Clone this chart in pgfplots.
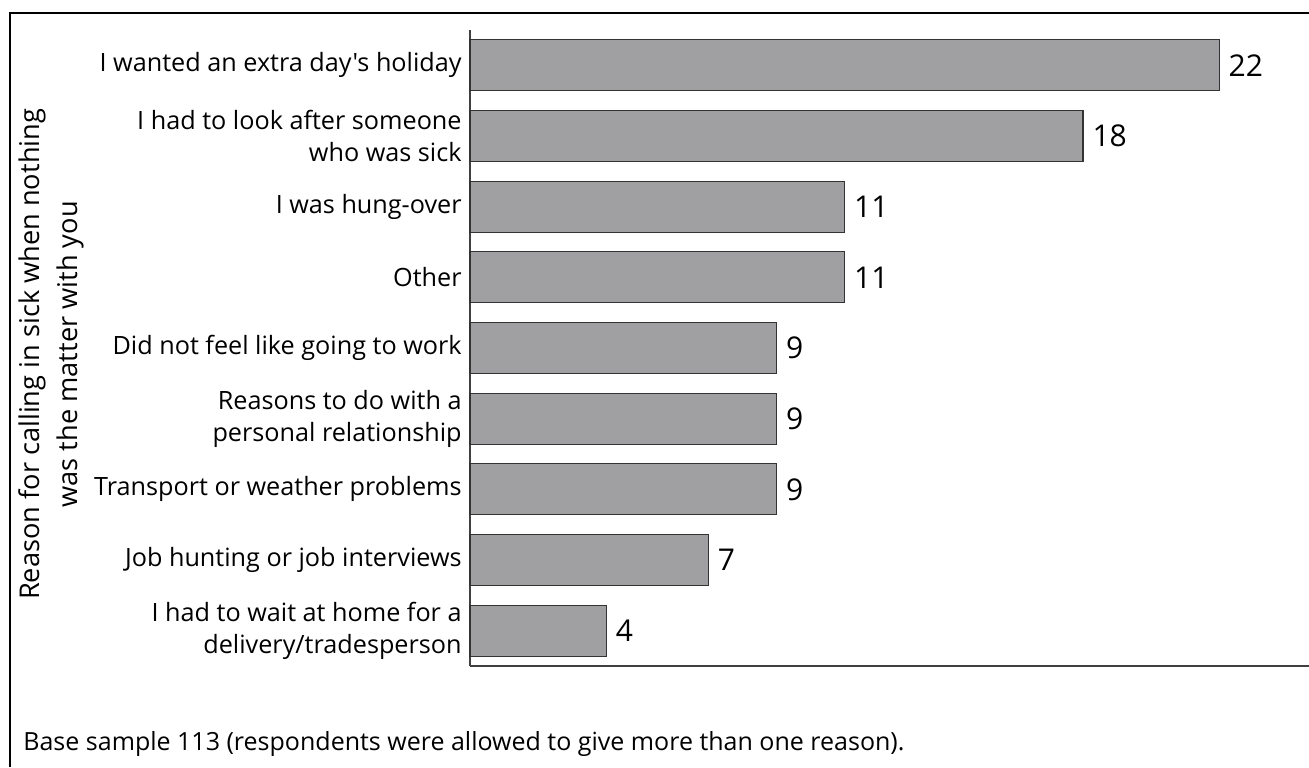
\documentclass[border=0pt]{standalone}
\usepackage{fontspec}
\setmainfont{Open Sans}[Ligatures=TeXOff]
\usepackage{pgfplots}
\pgfplotsset{compat=1.18}
\definecolor{barfill}{HTML}{A0A0A2}
\definecolor{baredge}{HTML}{333333}
\definecolor{axisgray}{HTML}{404040}
\begin{document}
\begin{tikzpicture}[x=1pt,y=1pt]
\fontsize{12.5}{16}\selectfont
\begin{axis}[
  at={(235pt,-333pt)}, anchor=south west,
  scale only axis,
  width=419.5pt, height=318pt,
  xbar, bar width=25.5pt,
  xmin=0, xmax=24.64,
  ymin=-0.5, ymax=8.5, y dir=reverse,
  axis x line*=bottom, axis y line*=left,
  axis line style={draw=axisgray, line width=1pt, -},
  xtick=\empty,
  ytick={0,...,8},
  yticklabels={
    {I wanted an extra day's holiday},
    {I had to look after someone\\who was sick},
    {I was hung-over},
    {Other},
    {Did not feel like going to work},
    {Reasons to do with a\\personal relationship},
    {Transport or weather problems},
    {Job hunting or job interviews},
    {I had to wait at home for a\\delivery/tradesperson}},
  major tick length=0pt,
  /pgf/number format/assume math mode=true,
  yticklabel style={align=right, inner sep=0pt, xshift=-4pt, font=\fontsize{12.6}{16}\selectfont},
  nodes near coords,
  nodes near coords style={anchor=west, inner sep=0pt, xshift=4.5pt, font=\fontsize{15}{16}\selectfont},
  ylabel={Reason for calling in sick when nothing\\was the matter with you},
  ylabel style={align=center, at={(axis description cs:-0.4994,0.49)}, anchor=center, font=\fontsize{13.6}{19}\selectfont},
  clip=false,
]
\addplot[fill=barfill, draw=baredge, line width=0.6pt] coordinates {
  (22,0) (18,1) (11,2) (11,3) (9,4) (9,5) (9,6) (7,7) (4,8)};
\end{axis}
\draw[line width=1.2pt, black] (5pt,-383.5pt) -- (5pt,-6.5pt) -- (654.5pt,-6.5pt);
\node[anchor=base west, inner sep=0pt, font=\fontsize{12.5}{16}\selectfont] at (11.5pt,-375pt) {Base sample 113 (respondents were allowed to give more than one reason).};
\pgfresetboundingbox
\useasboundingbox (0pt,0pt) rectangle (654.5pt,-383.5pt);
\end{tikzpicture}
\end{document}
